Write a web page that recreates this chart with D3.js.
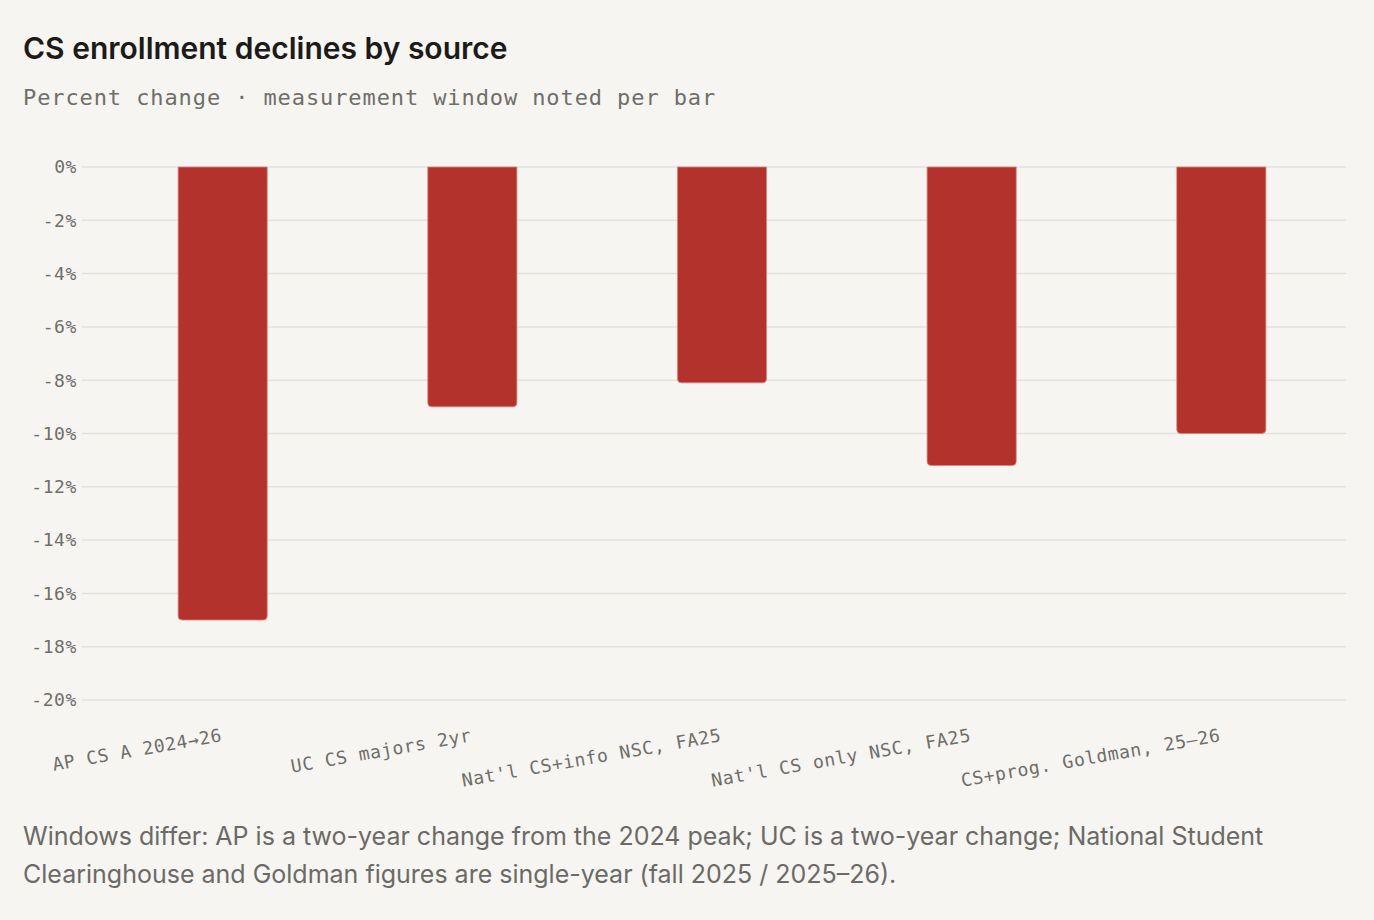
<!DOCTYPE html>
<html>
<head>
<meta charset="utf-8">
<script src="https://cdn.jsdelivr.net/npm/d3@7"></script>
<style>
  html, body { margin: 0; padding: 0; background: #f6f5f1; }
  svg { display: block; }
</style>
</head>
<body>
<script>
// chart data
var categories = ["AP CS A 2024\u219226", "UC CS majors 2yr", "Nat'l CS+info NSC, FA25", "Nat'l CS only NSC, FA25", "CS+prog. Goldman, 25\u201326"];
var changes = [-17, -9, -8.1, -11.2, -10];
var yTicks = [0, -2, -4, -6, -8, -10, -12, -14, -16, -18, -20];

var W = 1374, H = 920;
var mono = "'DejaVu Sans Mono', monospace";
var sans = "Inter, 'Noto Sans', sans-serif";

var svg = d3.select("body").append("svg").attr("width", W).attr("height", H);

svg.append("text")
  .attr("x", 23).attr("y", 59)
  .style("font-family", sans).style("font-weight", 600).style("font-size", "30px")
  .attr("fill", "#1c1b19")
  .text("CS enrollment declines by source");

svg.append("text")
  .attr("x", 23).attr("y", 105)
  .style("font-family", mono).style("font-size", "22px").style("letter-spacing", "0.9px")
  .attr("fill", "#6f6e69")
  .text("Percent change \u00b7 measurement window noted per bar");

var x = d3.scaleBand().domain(categories).range([82, 1362]).paddingInner(0.643).paddingOuter(0.385);
var y = d3.scaleLinear().domain([-20, 0]).range([700, 167]);

// grid
svg.append("g").selectAll("line").data(yTicks).join("line")
  .attr("x1", 82).attr("x2", 1346)
  .attr("y1", function(d) { return y(d); }).attr("y2", function(d) { return y(d); })
  .attr("stroke", "#e3e1dc").attr("stroke-width", 1.5);

// y axis labels
svg.append("g").selectAll("text").data(yTicks).join("text")
  .attr("x", 77).attr("y", function(d) { return y(d); }).attr("dy", "0.35em")
  .attr("text-anchor", "end")
  .style("font-family", mono).style("font-size", "18px").style("letter-spacing", "0.6px")
  .attr("fill", "#6f6e69")
  .text(function(d) { return d + "%"; });

// bars, rounded at the bottom only
var r = 4;
function barPath(d, i) {
  var x0 = x(categories[i]), x1 = x0 + x.bandwidth();
  var y0 = y(0), y1 = y(d);
  return "M" + x0 + "," + y0 + "H" + x1 + "V" + (y1 - r) +
    "Q" + x1 + "," + y1 + " " + (x1 - r) + "," + y1 +
    "H" + (x0 + r) + "Q" + x0 + "," + y1 + " " + x0 + "," + (y1 - r) + "Z";
}
svg.append("g").selectAll("path").data(changes).join("path")
  .attr("d", barPath)
  .attr("fill", "#b3322b")
  .attr("stroke", "#d98580").attr("stroke-width", 0.8);

// rotated category labels
svg.append("g").selectAll("text").data(categories).join("text")
  .attr("transform", function(d) { return "translate(" + (x(d) + x.bandwidth() / 2) + ",741) rotate(-10)"; })
  .attr("text-anchor", "end")
  .style("font-family", mono).style("font-size", "18px").style("letter-spacing", "0.6px")
  .attr("fill", "#6f6e69")
  .text(function(d) { return d; });

// footnote
var note = ["Windows differ: AP is a two-year change from the 2024 peak; UC is a two-year change; National Student",
            "Clearinghouse and Goldman figures are single-year (fall 2025 / 2025\u201326)."];
svg.append("g").selectAll("text").data(note).join("text")
  .attr("x", 23).attr("y", function(d, i) { return 845 + i * 38; })
  .style("font-family", sans).style("font-size", "25px")
  .attr("fill", "#6b6a66")
  .text(function(d) { return d; });
</script>
</body>
</html>
